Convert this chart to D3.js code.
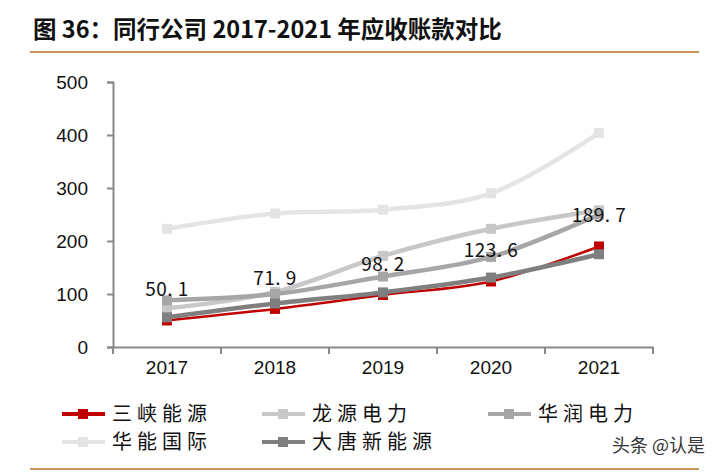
<!DOCTYPE html>
<html><head><meta charset="utf-8">
<script src="https://cdn.jsdelivr.net/npm/d3@7"></script>
<style>body{margin:0;background:#fff}svg{display:block}</style>
</head><body>
<svg id="c" width="713" height="473"></svg>
<script>
const years = ["2017","2018","2019","2020","2021"];
const yTicks = [0,100,200,300,400,500];
const sanxia = [50.1, 71.9, 98.2, 123.6, 189.7];
const longyuan = [73, 104, 172, 223, 258];
const huarun = [88, 100, 133, 170, 250];
const huaneng = [223, 252, 259, 290, 404];
const datang = [56, 82, 103, 131, 175];
const seriesNames = ["三峡能源","龙源电力","华润电力","华能国际","大唐新能源"];
const seriesColors = ["#c00000","#c8c8c8","#a6a6a6","#e4e4e4","#7f7f7f"];
const seriesValues = [sanxia, longyuan, huarun, huaneng, datang];

const svg = d3.select("#c");
const x = d3.scaleBand().domain(years).range([113, 653]);
const y = d3.scaleLinear().domain([0, 500]).range([347, 82]);

// title
svg.append("text").attr("x", 33).attr("y", 38)
  .attr("font-family", "'Noto Sans CJK SC', 'Liberation Sans', sans-serif")
  .attr("font-weight", "bold").attr("font-size", 23.5).attr("fill", "#111")
  .text("图 36：同行公司 2017-2021 年应收账款对比");
svg.append("line").attr("x1", 30).attr("x2", 699).attr("y1", 52).attr("y2", 52)
  .attr("stroke", "#c8945c").attr("stroke-width", 2);
svg.append("line").attr("x1", 30).attr("x2", 699).attr("y1", 469).attr("y2", 469)
  .attr("stroke", "#c8945c").attr("stroke-width", 2);

// y axis
const ya = svg.append("g").attr("transform", "translate(113,0)")
  .call(d3.axisLeft(y).tickValues(yTicks).tickSize(6).tickPadding(19));
ya.select(".domain").attr("stroke", "#888").attr("stroke-width", 2);
ya.selectAll(".tick line").attr("stroke", "#888").attr("stroke-width", 2);
ya.selectAll("text").attr("font-family", "'Liberation Sans', Arial, sans-serif")
  .attr("font-size", 19).attr("fill", "#111");

// x axis
const xa = svg.append("g").attr("transform", "translate(0,347)")
  .call(d3.axisBottom(x).tickSize(0).tickPadding(14));
xa.select(".domain").attr("stroke", "#888").attr("stroke-width", 2);
xa.selectAll("text").attr("font-family", "'Liberation Sans', Arial, sans-serif")
  .attr("font-size", 19).attr("fill", "#111");
const bounds = years.map(d => x(d)).concat([x.range()[1]]);
svg.append("g").selectAll("line").data(bounds).join("line")
  .attr("x1", d => d).attr("x2", d => d).attr("y1", 347).attr("y2", 354)
  .attr("stroke", "#888").attr("stroke-width", 2);

const cx = d => x(d) + x.bandwidth() / 2;
const line = d3.line().x(d => cx(d[0])).y(d => y(d[1])).curve(d3.curveCatmullRom.alpha(0.5));

seriesValues.forEach((vals, i) => {
  const pts = years.map((yr, j) => [yr, vals[j]]);
  const g = svg.append("g");
  g.append("path").datum(pts).attr("d", line).attr("fill", "none")
    .attr("stroke", seriesColors[i]).attr("stroke-width", i === 0 ? 2.5 : 4.5);
  g.selectAll("rect").data(pts).join("rect")
    .attr("x", d => cx(d[0]) - 5).attr("y", d => y(d[1]) - 5)
    .attr("width", 10).attr("height", 10).attr("fill", seriesColors[i]);
});

// data labels for 三峡能源
svg.append("g").selectAll("text").data(years.map((yr, j) => [yr, sanxia[j]])).join("text")
  .attr("x", d => cx(d[0])).attr("y", d => y(d[1]) - 24)
  .attr("text-anchor", "middle")
  .attr("font-family", "'Noto Sans CJK SC', sans-serif").attr("font-size", 19)
  .attr("fill", "#111").attr("letter-spacing", "0.5")
  .text(d => d[1].toFixed(1).replace(".", ". "));

// legend
const legPos = [[62,414],[262,414],[488,414],[62,442],[262,442]];
seriesNames.forEach((n, i) => {
  const [lx, ly] = legPos[i];
  const g = svg.append("g");
  g.append("line").attr("x1", lx).attr("x2", lx + 43).attr("y1", ly).attr("y2", ly)
    .attr("stroke", seriesColors[i]).attr("stroke-width", 4);
  g.append("rect").attr("x", lx + 16).attr("y", ly - 5).attr("width", 10).attr("height", 10)
    .attr("fill", seriesColors[i]);
  g.append("text").attr("x", lx + 50).attr("y", ly + 7)
    .attr("font-family", "'Noto Sans CJK SC', sans-serif").attr("font-size", 20)
    .attr("fill", "#111").attr("letter-spacing", "5").text(n);
});

svg.append("text").attr("x", 705).attr("y", 452).attr("text-anchor", "end")
  .attr("font-family", "'Noto Sans CJK SC', sans-serif").attr("font-size", 18)
  .attr("fill", "#333").text("头条 @认是");
</script>
</body></html>
